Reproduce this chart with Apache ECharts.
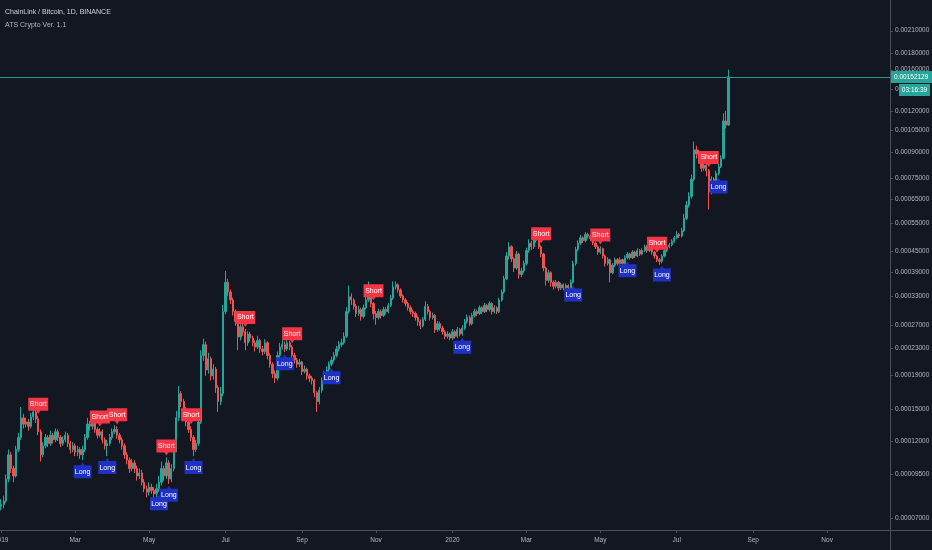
<!DOCTYPE html>
<html><head><meta charset="utf-8">
<script src="https://cdn.jsdelivr.net/npm/echarts@6/dist/echarts.min.js"></script>
<style>html,body{margin:0;padding:0;background:#131722;}#c{width:932px;height:550px;}</style>
</head><body><div id="c"></div><script>
// Prices in micro-BTC (1e-6 BTC), one candle per 2 days starting 2018-12-31
const opens = [
76,77,79,92,109,99,94,113,123,141, 135,137,133,142,147,140,128,109,116,123,
118,125,121,128,123,118,121,125,118,113, 116,111,113,109,113,123,135,133,137,130,
125,128,121,116,118,123,128,130,125,121, 116,109,105,99,103,99,94,96,90,86,
84,87,85,83,86,90,99,94,103,92, 99,113,141,167,158,150,137,130,123,113,
118,137,218,235,197,213,189,198,174,158, 167,296,363,339,321,296,276,248,266,257,
238,253,246,238,231,242,228,224,238,218, 205,192,186,218,231,235,228,238,231,218,
211,205,208,195,198,189,186,183,168,158, 171,183,192,197,205,211,218,228,235,238,
249,296,328,321,307,292,300,286,304,321, 330,313,292,284,296,288,300,296,309,325,
351,357,344,330,321,313,304,296,292,284, 276,268,280,307,296,284,288,261,272,264,
257,249,253,246,257,249,261,253,264,276, 284,272,288,296,292,304,296,309,300,313,
296,304,296,321,339,372,436,465,428,401, 442,383,393,414,453,477,465,501,486,465,
442,401,368,388,363,353,363,349,357,349, 355,349,363,414,456,477,495,486,507,501,
492,477,465,448,459,436,414,425,388,409, 425,414,425,414,431,442,431,448,436,453,
442,453,465,453,459,448,436,425,420,436, 453,465,471,483,495,507,501,520,567,622,
661,745,915,888,862,804,822,790,681,745, 702,776,813,862,1119,1087];
const closes = [
77,79,92,109,99,94,113,123,141,135, 137,133,142,147,140,128,109,116,123,118,
125,121,128,123,118,121,125,118,113,116, 111,113,109,113,123,135,133,137,130,125,
128,121,116,118,123,128,130,125,121,116, 109,105,99,103,99,94,96,90,86,84,
87,85,83,86,90,99,94,103,92,99, 113,141,167,158,150,137,130,123,113,118,
137,218,235,197,213,189,198,174,158,167, 296,363,339,321,296,276,248,266,257,238,
253,246,238,231,242,228,224,238,218,205, 192,186,218,231,235,228,238,231,218,211,
205,208,195,198,189,186,183,168,158,171, 183,192,197,205,211,218,228,235,238,249,
296,328,321,307,292,300,286,304,321,330, 313,292,284,296,288,300,296,309,325,351,
357,344,330,321,313,304,296,292,284,276, 268,280,307,296,284,288,261,272,264,257,
249,253,246,257,249,261,253,264,276,284, 272,288,296,292,304,296,309,300,313,296,
304,296,321,339,372,436,465,428,401,442, 383,393,414,453,477,465,501,486,465,442,
401,368,388,363,353,363,349,357,349,355, 349,363,414,456,477,495,486,507,501,492,
477,465,448,459,436,414,425,388,409,425, 414,425,414,431,442,431,448,436,453,442,
453,465,453,459,448,436,425,420,436,453, 465,471,483,495,507,501,520,567,622,661,
745,915,888,862,804,822,790,681,745,702, 776,813,862,1119,1087,1521.29];
const highs = [
80,82,95,113,111,101,116,127,152,145, 141,140,146,153,150,143,130,119,126,125,
129,127,131,130,125,124,128,127,120,119, 118,116,115,116,126,141,138,141,139,132,
131,130,123,121,126,131,134,133,127,123, 118,111,107,106,105,101,99,98,92,88,
90,89,87,89,94,104,101,107,105,102, 117,148,176,170,161,152,139,133,125,121,
141,226,245,240,222,216,205,201,177,175, 310,393,372,345,326,300,280,272,278,262,
258,257,250,242,250,245,233,244,241,221, 208,196,224,238,243,240,244,241,234,222,
214,213,210,203,200,192,189,185,170,175, 187,196,202,209,216,223,233,241,245,256,
305,355,336,325,312,308,304,311,328,365, 336,316,297,302,300,306,305,314,332,365,
365,360,348,334,325,317,309,300,296,288, 280,285,318,312,300,294,291,277,276,268,
260,258,256,262,260,266,264,269,281,290, 288,293,302,300,309,307,314,312,318,316,
309,307,326,345,380,448,480,470,432,452, 446,402,422,462,490,484,512,507,490,470,
446,405,396,392,368,369,366,362,360,360, 358,370,422,465,486,505,500,515,513,506,
496,482,470,466,462,440,432,428,415,431, 430,432,428,438,448,446,454,452,460,458,
460,472,470,466,462,452,440,430,442,458, 470,478,490,502,518,512,530,585,640,680,
770,969,940,915,870,850,835,800,760,755, 790,830,880,1180,1200,1600];
const lows = [
74,75,78,90,96,90,93,111,121,131, 132,129,131,139,136,125,104,107,114,115,
116,118,119,120,115,116,119,115,110,111, 108,108,106,105,111,121,129,130,127,122,
123,118,113,108,116,121,126,122,118,113, 106,102,96,97,96,91,92,88,84,81,
82,83,80,81,84,88,91,92,89,90, 97,111,138,152,145,133,127,120,108,111,
116,135,210,189,192,183,184,168,147,154, 164,290,330,312,288,268,226,242,250,226,
233,240,232,224,228,222,218,220,212,200, 186,180,183,214,227,223,225,226,213,206,
200,201,190,192,184,181,178,163,147,155, 168,180,189,194,202,208,215,224,231,235,
246,292,310,300,285,287,278,282,300,316, 305,280,270,280,282,285,290,292,305,321,
345,338,325,315,307,298,290,285,278,268, 262,265,277,290,278,280,255,257,259,252,
244,245,242,243,245,246,249,250,260,272, 268,269,284,287,289,291,293,295,296,290,
292,291,293,317,335,368,425,418,390,396, 372,376,388,408,446,455,458,478,458,432,
392,355,362,352,345,348,342,344,343,345, 343,345,360,408,450,470,478,480,492,485,
470,458,440,442,428,405,408,363,384,404, 408,410,408,410,426,425,427,430,432,436,
438,448,446,448,440,428,418,410,414,432, 448,460,466,478,490,494,496,515,560,612,
650,735,860,830,785,790,760,603,670,690, 695,765,805,855,1060,1080];
const shortSignals = [15,40,47,67,77,99,118,151,219,243,266,287];
const longSignals = [33,43,64,68,78,115,134,187,232,254,268,291];
const priceTicks = [0.0021,0.0018,0.0016,0.0014,0.0012,0.00105,0.0009,0.00075,0.00065,0.00055,0.00045,0.00039,0.00033,0.00027,0.00023,0.00019,0.00015,0.00012,0.000095,0.00007];
const lastPrice = 0.00152129;
const countdownText = '03:16:39';
const titleText = 'ChainLink / Bitcoin, 1D, BINANCE';
const indicatorText = 'ATS Crypto Ver. 1.1';
const MONTHS = ['Jan','Feb','Mar','Apr','May','Jun','Jul','Aug','Sep','Oct','Nov','Dec'];

const UNIT = 1e-6;
const DAY = 86400000;
const START = Date.UTC(2018, 11, 31);
const N_CATS = 361;
const FONT = "'Liberation Sans',Arial,sans-serif";
const TXT = '#b2b5be', LINE = '#4c505b', UP = '#26a69a', DOWN = '#ef5350';

const categories = [];
for (let k = 0; k < N_CATS; k++) categories.push(new Date(START + 2 * k * DAY).toISOString().slice(0, 10));
function monthStart(v) {
  const d = new Date(v + 'T00:00:00Z');
  for (let j = 0; j < 2; j++) { const e = new Date(d.getTime() + j * DAY); if (e.getUTCDate() === 1) return e; }
  return null;
}
const showLabel = (i, v) => { const e = monthStart(v); return !!e && e.getUTCMonth() % 2 === 0; };

const candleData = opens.map((o, i) => [o * UNIT, closes[i] * UNIT, lows[i] * UNIT, highs[i] * UNIT]);

const SHORT_PATH = 'path://M0 0H20V13H12L10 16L8 13H0Z';
const LONG_PATH = 'path://M0 3H8L10 0L12 3H20V16H0Z';
const marks = [];
shortSignals.forEach(k => marks.push({name: 'Short', coord: [k, highs[k] * UNIT], symbol: SHORT_PATH, symbolSize: [20, 16], symbolOffset: [0, -10], itemStyle: {color: '#f23645'}, label: {offset: [0, -1.5]}}));
longSignals.forEach(k => marks.push({name: 'Long', coord: [k, lows[k] * UNIT], symbol: LONG_PATH, symbolSize: [18, 16], symbolOffset: [0, 10], itemStyle: {color: '#1f31c2'}, label: {offset: [0, 1.5]}}));

const tickItems = priceTicks.map(v => ({yAxis: v, label: {formatter: v.toFixed(8)}}));

const chart = echarts.init(document.getElementById('c'), null, {renderer: 'canvas'});
chart.setOption({
  backgroundColor: '#131722',
  animation: false,
  title: [
    {text: titleText, left: 5, top: 9, padding: 0, textStyle: {color: '#d1d4dc', fontSize: 7, fontWeight: 'normal', fontFamily: FONT}},
    {text: indicatorText, left: 5, top: 22, padding: 0, textStyle: {color: '#b2b5be', fontSize: 7, fontWeight: 'normal', fontFamily: FONT}}
  ],
  grid: {left: 0, right: 42, top: 0, bottom: 20, containLabel: false, outerBoundsMode: 'none'},
  xAxis: {
    type: 'category', data: categories, boundaryGap: true,
    axisLine: {lineStyle: {color: LINE}},
    axisTick: {show: true, interval: showLabel, alignWithLabel: true, length: 3, lineStyle: {color: LINE}},
    axisLabel: {interval: showLabel, formatter: v => { const e = monthStart(v); if (!e) return ''; return e.getUTCMonth() === 0 ? String(e.getUTCFullYear()) : MONTHS[e.getUTCMonth()]; },
      color: TXT, fontSize: 6.5, fontFamily: FONT, margin: 7},
    splitLine: {show: false}
  },
  yAxis: {
    type: 'log', logBase: 10, min: 0.0000645, max: 0.0026, position: 'right',
    axisLine: {show: true, lineStyle: {color: LINE}},
    axisTick: {show: false}, axisLabel: {show: false}, splitLine: {show: false}
  },
  series: [{
    type: 'candlestick', data: candleData, barWidth: 1.8, clip: false, z: 2,
    itemStyle: {color: UP, color0: DOWN, borderColor: UP, borderColor0: DOWN, borderWidth: 1},
    markLine: {
      silent: true, symbol: ['none', 'none'], animation: false, precision: 10,
      lineStyle: {color: 'rgba(0,0,0,0)', width: 1, opacity: 1},
      label: {position: 'end', color: TXT, fontSize: 6.5, fontFamily: FONT, distance: 5, opacity: 1},
      data: tickItems
    },
    markPoint: {
      silent: true, animation: false,
      label: {show: true, position: 'inside', formatter: '{b}', color: '#ffffff', fontSize: 7, fontFamily: FONT},
      data: marks
    }
  }],
  graphic: [
    {id: 'axisExt', type: 'line', shape: {x1: 890, y1: 530.5, x2: 932, y2: 530.5}, style: {stroke: LINE, lineWidth: 1}},
    {id: 'scaleExt', type: 'line', shape: {x1: 890.5, y1: 530, x2: 890.5, y2: 550}, style: {stroke: LINE, lineWidth: 1}}
  ]
});
// current-price elements placed through the chart's own y scale
const py = Math.round(chart.convertToPixel({yAxisIndex: 0}, lastPrice));
const extra = [
  {id: 'priceLine', type: 'rect', shape: {x: 0, y: py, width: 890, height: 1}, style: {fill: '#1f9e8f'}, z: 100},
  {id: 'priceBox', type: 'rect', shape: {x: 891, y: py - 6, width: 41, height: 12}, style: {fill: UP}, z: 100},
  {id: 'priceTxt', type: 'text', x: 894, y: py + 0.5, z: 101, style: {text: lastPrice.toFixed(8), fill: '#fff', fontSize: 6.5, fontFamily: FONT, align: 'left', verticalAlign: 'middle'}},
  {id: 'cdBox', type: 'rect', shape: {x: 899, y: py + 7, width: 31, height: 12}, style: {fill: UP}, z: 100},
  {id: 'cdTxt', type: 'text', x: 914.5, y: py + 13.5, z: 101, style: {text: countdownText, fill: '#fff', fontSize: 6.5, fontFamily: FONT, align: 'center', verticalAlign: 'middle'}}
];
priceTicks.forEach((v, i) => {
  const ty = Math.round(chart.convertToPixel({yAxisIndex: 0}, v)) + 0.5;
  extra.push({id: 'tk' + i, type: 'line', shape: {x1: 890, y1: ty, x2: 893, y2: ty}, style: {stroke: LINE, lineWidth: 1}, z: 10});
});
chart.setOption({graphic: extra});
</script></body></html>
